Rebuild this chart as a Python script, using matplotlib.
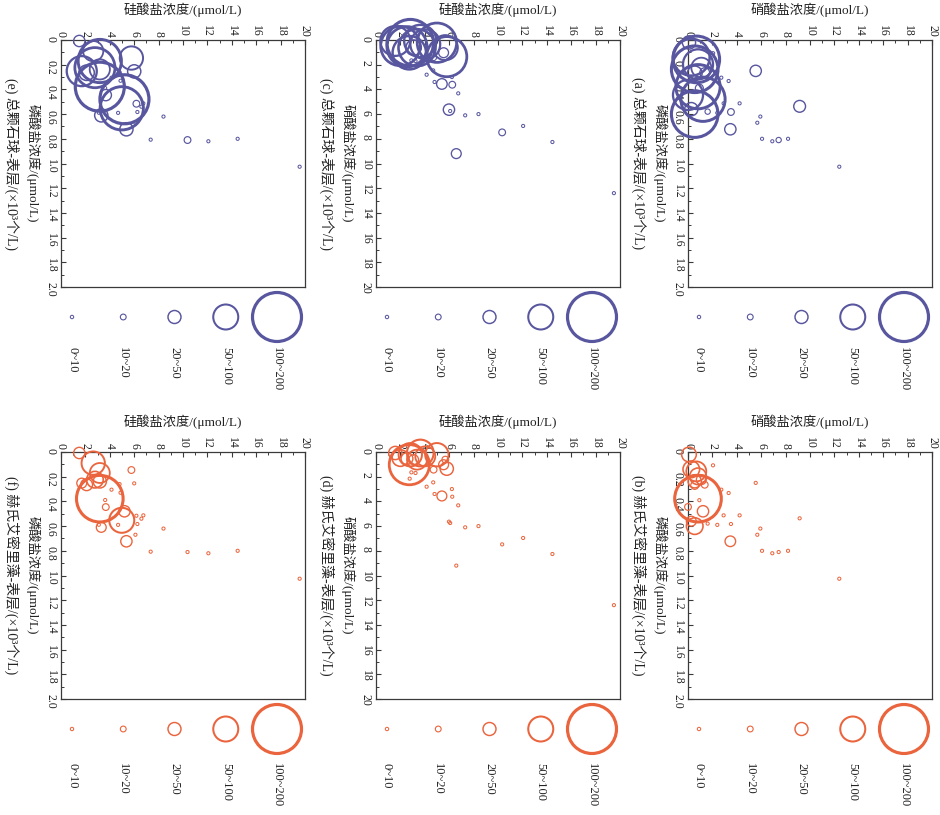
import matplotlib
matplotlib.use('Agg')
import matplotlib.pyplot as plt
import numpy as np
from matplotlib.ticker import MultipleLocator, FuncFormatter

plt.rcParams['font.family'] = ['Liberation Serif', 'Noto Sans CJK SC', 'DejaVu Sans']

# ---------------- data ----------------
# (a)/(b): nitrate (horizontal) vs phosphate (vertical)
AB_NITRATE = [0.08, 0.27, 0.68, 0.82, 0.55, 1.09, 0.55, 1.37, 0.82, 0.0, 1.23, 0.55, 0.27, 0.93,
              2.05, 5.55, 2.73, 3.33, 2.92, 4.23, 9.15, 1.61, 2.4, 3.52, 5.93, 5.68, 3.47,
              6.07, 6.91, 7.43, 8.2, 12.4]
AB_PHOSPHATE = [0.02, 0.14, 0.157, 0.197, 0.237, 0.224, 0.27, 0.265, 0.378, 0.445, 0.48, 0.60, 0.56, 0.39,
                0.108, 0.25, 0.305, 0.332, 0.513, 0.513, 0.537, 0.58, 0.59, 0.583, 0.62, 0.67, 0.723,
                0.80, 0.82, 0.81, 0.80, 1.026]
AB_TOTAL = [51, 149, 190, 121, 190, 79, 57, 37, 180, 121, 180, 190, 51, 29,
            10, 43, 9, 9, 9, 9, 45, 18, 9, 24, 9, 9, 43,
            9, 9, 18, 9, 9]
AB_EHUX = [57, 65, 79, 65, 51, 37, 29, 24, 190, 24, 43, 65, 37, 9,
           9, 9, 9, 9, 9, 9, 9, 9, 9, 9, 9, 9, 40,
           9, 9, 9, 9, 9]

# (c)/(d): silicate (horizontal) vs nitrate (vertical)
CD_SILICATE = [2.73, 1.58, 2.0, 2.81, 3.36, 4.04, 4.99, 5.54, 5.68, 3.63, 3.08, 4.72, 5.8, 2.54,
               2.76, 4.15, 4.69, 6.22, 6.25, 4.8, 5.4, 6.74, 5.98, 6.08, 7.31, 8.4, 12.06,
               10.34, 14.46, 6.58, 19.5, 2.9, 3.24]
CD_NITRATE = [1.03, 0.08, 0.49, 0.22, 0.62, 0.35, 0.22, 1.03, 0.62, 0.08, 0.62, 1.43, 1.35, 0.54,
              2.16, 2.81, 2.46, 3.0, 3.62, 3.4, 3.56, 4.32, 5.64, 5.75, 6.1, 6.0, 6.96,
              7.48, 8.26, 9.2, 12.4, 1.65, 1.7]
CD_TOTAL = [135, 120, 160, 190, 150, 120, 160, 37, 100, 130, 60, 20, 163, 163,
            9, 9, 9, 9, 24, 9, 40, 9, 43, 9, 9, 9, 9,
            24, 9, 37, 9, 9, 9]
CD_EHUX = [163, 51, 65, 93, 79, 79, 93, 37, 24, 107, 37, 24, 51, 45,
           9, 9, 9, 9, 9, 9, 37, 9, 9, 9, 9, 9, 9,
           9, 9, 9, 9, 9, 9]

# (e)/(f): silicate (horizontal) vs phosphate (vertical)
EF_SILICATE = [1.5, 2.64, 5.77, 3.18, 6.0, 1.7, 2.1, 2.78, 3.18, 4.8, 4.88, 4.14, 3.18, 3.62,
               3.67, 5.2, 4.98, 6.18, 6.75, 6.59, 3.1, 3.3, 4.68, 6.26, 6.1, 8.4, 5.36,
               7.35, 10.37, 12.08, 14.48, 19.56]
EF_PHOSPHATE = [0.008, 0.09, 0.146, 0.17, 0.254, 0.252, 0.265, 0.224, 0.238, 0.26, 0.33, 0.305, 0.378, 0.389,
                0.446, 0.48, 0.553, 0.516, 0.513, 0.54, 0.589, 0.61, 0.59, 0.583, 0.67, 0.62, 0.723,
                0.807, 0.81, 0.82, 0.80, 1.026]
EF_TOTAL = [43, 80, 93, 176, 51, 121, 60, 163, 80, 9, 9, 9, 200, 9,
            43, 200, 176, 24, 9, 9, 9, 51, 9, 9, 9, 9, 51,
            9, 24, 9, 9, 9]
EF_EHUX = [43, 93, 24, 79, 9, 37, 45, 65, 51, 9, 9, 9, 190, 9,
           24, 43, 100, 9, 9, 9, 9, 37, 9, 9, 9, 9, 43,
           9, 9, 9, 9, 9]

LEGEND_VALUES = [10, 20, 50, 100, 200]
LEGEND_LABELS = ['0~10', '10~20', '20~50', '50~100', '100~200']

NITRATE_LABEL = '硝酸盐浓度/(μmol/L)'
SILICATE_LABEL = '硅酸盐浓度/(μmol/L)'
PHOSPHATE_LABEL = '磷酸盐浓度/(μmol/L)'
TITLES = {
    'a': '(a) 总颗石球-表层/(×10³个/L)',
    'b': '(b) 赫氏艾密里藻-表层/(×10³个/L)',
    'c': '(c) 总颗石球-表层/(×10³个/L)',
    'd': '(d) 赫氏艾密里藻-表层/(×10³个/L)',
    'e': '(e) 总颗石球-表层/(×10³个/L)',
    'f': '(f) 赫氏艾密里藻-表层/(×10³个/L)',
}

# ---------------- style ----------------
W, H, DPI = 940, 815, 100
BLUE = '#58569e'
ORANGE = '#ea653e'
PX2PT = 72.0 / DPI
AX_W, AX_H = 244, 247
SPINE = '#3a3a3a'

fig = plt.figure(figsize=(W / DPI, H / DPI), dpi=DPI)


def radius_px(v):
    return 0.5 + 0.12 * np.asarray(v, dtype=float)


def marker_style(values):
    r = radius_px(values)
    s = (2 * r * PX2PT) ** 2
    lw = (0.85 + 0.095 * r) * PX2PT
    return s, lw


def ptext(x, y, s, **kw):
    fig.text(x / W, 1 - y / H, s, **kw)


def fmt_p(v, pos):
    return '0' if abs(v) < 1e-9 else f'{v:.1f}'


def fmt_i(v, pos):
    return f'{v:.0f}'


def panel(left, top, xs, ys, vals, color, xlabel, ylabel, title, vmax, ymaj, ymin, yfmt, leg_gap):
    ax = fig.add_axes([left / W, 1 - (top + AX_H) / H, AX_W / W, AX_H / H])
    ax.set_xlim(0, 20)
    ax.set_ylim(vmax, 0)
    s, lw = marker_style(vals)
    ax.scatter(xs, ys, s=s, facecolors='none', edgecolors=color, linewidths=lw,
               clip_on=False, zorder=3)
    for sp in ax.spines.values():
        sp.set_color(SPINE)
        sp.set_linewidth(0.9)
    ax.xaxis.set_major_locator(MultipleLocator(2))
    ax.xaxis.set_minor_locator(MultipleLocator(1))
    ax.xaxis.set_major_formatter(FuncFormatter(fmt_i))
    ax.yaxis.set_major_locator(MultipleLocator(ymaj))
    ax.yaxis.set_minor_locator(MultipleLocator(ymin))
    ax.yaxis.set_major_formatter(FuncFormatter(yfmt))
    ax.tick_params(axis='x', which='both', direction='in', top=True, bottom=False,
                   labeltop=True, labelbottom=False, colors=SPINE, labelcolor='#222222')
    ax.tick_params(axis='x', which='major', labelrotation=-90, labelsize=8.5, pad=2.5,
                   length=3.5, width=0.8)
    ax.tick_params(axis='x', which='minor', length=2, width=0.7)
    ax.tick_params(axis='y', which='both', direction='in', left=True, right=False,
                   colors=SPINE, labelcolor='#222222')
    ax.tick_params(axis='y', which='major', labelrotation=-90, labelsize=8.5, pad=3,
                   length=3.5, width=0.8)
    ax.tick_params(axis='y', which='minor', length=2, width=0.7)

    ptext(left + AX_W / 2, top - 30, xlabel, ha='center', va='center', fontsize=9.5,
          color='#222222')
    ptext(left - 28, top + AX_H / 2, ylabel, ha='center', va='center', rotation=-90,
          fontsize=9.5, color='#222222')
    ptext(left - 49, top + AX_H / 2, title, ha='center', va='center', rotation=-90,
          fontsize=10, color='#222222')

    # size legend below the axes
    lx = [(11 + 51.25 * i) / AX_W for i in range(len(LEGEND_VALUES))]
    ly = [-30 / AX_H] * len(LEGEND_VALUES)
    ls, llw = marker_style(LEGEND_VALUES)
    ax.scatter(lx, ly, s=ls, facecolors='none', edgecolors=color, linewidths=llw,
               transform=ax.transAxes, clip_on=False, zorder=3)
    for x, lab in zip(lx, LEGEND_LABELS):
        ax.text(x, -leg_gap / AX_H, lab, transform=ax.transAxes, rotation=-90,
                ha='center', va='top', fontsize=9, color='#222222')
    return ax


TOP1, TOP2 = 40, 452
L_E, L_C, L_A = 61, 376, 688

panel(L_A, TOP1, AB_NITRATE, AB_PHOSPHATE, AB_TOTAL, BLUE, NITRATE_LABEL, PHOSPHATE_LABEL,
      TITLES['a'], 2.0, 0.2, 0.1, fmt_p, 60)
panel(L_A, TOP2, AB_NITRATE, AB_PHOSPHATE, AB_EHUX, ORANGE, NITRATE_LABEL, PHOSPHATE_LABEL,
      TITLES['b'], 2.0, 0.2, 0.1, fmt_p, 64)
panel(L_C, TOP1, CD_SILICATE, CD_NITRATE, CD_TOTAL, BLUE, SILICATE_LABEL, NITRATE_LABEL,
      TITLES['c'], 20, 2, 1, fmt_i, 60)
panel(L_C, TOP2, CD_SILICATE, CD_NITRATE, CD_EHUX, ORANGE, SILICATE_LABEL, NITRATE_LABEL,
      TITLES['d'], 20, 2, 1, fmt_i, 64)
panel(L_E, TOP1, EF_SILICATE, EF_PHOSPHATE, EF_TOTAL, BLUE, SILICATE_LABEL, PHOSPHATE_LABEL,
      TITLES['e'], 2.0, 0.2, 0.1, fmt_p, 60)
panel(L_E, TOP2, EF_SILICATE, EF_PHOSPHATE, EF_EHUX, ORANGE, SILICATE_LABEL, PHOSPHATE_LABEL,
      TITLES['f'], 2.0, 0.2, 0.1, fmt_p, 64)

fig.savefig('out.png', dpi=DPI)
